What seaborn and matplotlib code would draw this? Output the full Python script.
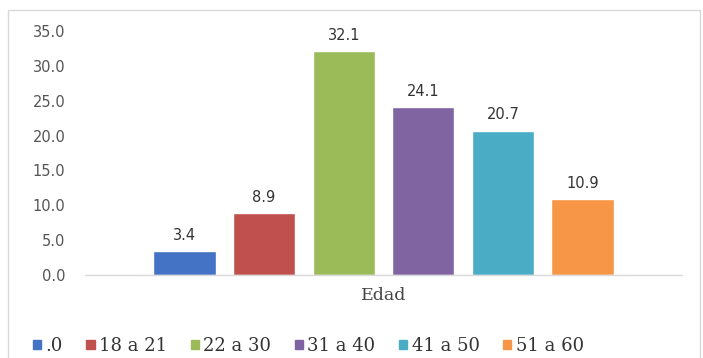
import matplotlib
matplotlib.use("Agg")
import matplotlib.pyplot as plt
import seaborn as sns
import pandas as pd
from matplotlib.patches import Rectangle

categories = ["Edad"]
series = [".0", "18 a 21", "22 a 30", "31 a 40", "41 a 50", "51 a 60"]
values = [3.4, 8.9, 32.1, 24.1, 20.7, 10.9]
colors = ["#4472C4", "#C0504D", "#9BBB59", "#8064A2", "#4BACC6", "#F79646"]
yticks = [0, 5, 10, 15, 20, 25, 30, 35]

df = pd.DataFrame({"cat": categories * len(series), "serie": series, "valor": values})

sns.set_style("white")
plt.rcParams["font.family"] = ["DejaVu Serif"]

fig = plt.figure(figsize=(7.03, 3.58), dpi=100)
ax = fig.add_axes([85 / 703, 83 / 358, 597 / 703, 244 / 358])

sns.barplot(data=df, x="cat", y="valor", hue="serie", hue_order=series,
            palette=colors, width=0.8, gap=0.22, ax=ax, legend=False,
            saturation=1, errorbar=None)

for cont in ax.containers:
    ax.bar_label(cont, fmt="%.1f", padding=6, fontsize=10.5, color="#333333",
                 family="DejaVu Sans")

ax.set_ylim(0, 35)
ax.set_xlim(-0.5, 0.5)
ax.set_yticks(yticks)
ax.set_yticklabels([f"{t:.1f}" for t in yticks], fontsize=10.5, color="#555555",
                   family="DejaVu Sans")
ax.tick_params(axis="y", length=0, pad=14)
ax.tick_params(axis="x", length=0, pad=9, labelsize=12.5, labelcolor="#444444")
ax.set_xlabel("")
ax.set_ylabel("")
for s in ["top", "right", "left"]:
    ax.spines[s].set_visible(False)
ax.spines["bottom"].set_color("#d9d9d9")
ax.spines["bottom"].set_linewidth(1)

handles = [Rectangle((0, 0), 1, 1, color=c) for c in colors]
fig.legend(handles, series, loc="center left", bbox_to_anchor=(33 / 703, 1 - 346 / 358),
           ncol=6, frameon=False, fontsize=13, handlelength=0.45, handleheight=0.45,
           handletextpad=0.25, columnspacing=1.3, labelcolor="#333333",
           borderaxespad=0, borderpad=0)

fig.patches.append(Rectangle((8 / 703, -10 / 358), 692 / 703, 358 / 358,
                             transform=fig.transFigure, fill=False,
                             edgecolor="#d9d9d9", linewidth=1))

fig.savefig("out.png", dpi=100)
